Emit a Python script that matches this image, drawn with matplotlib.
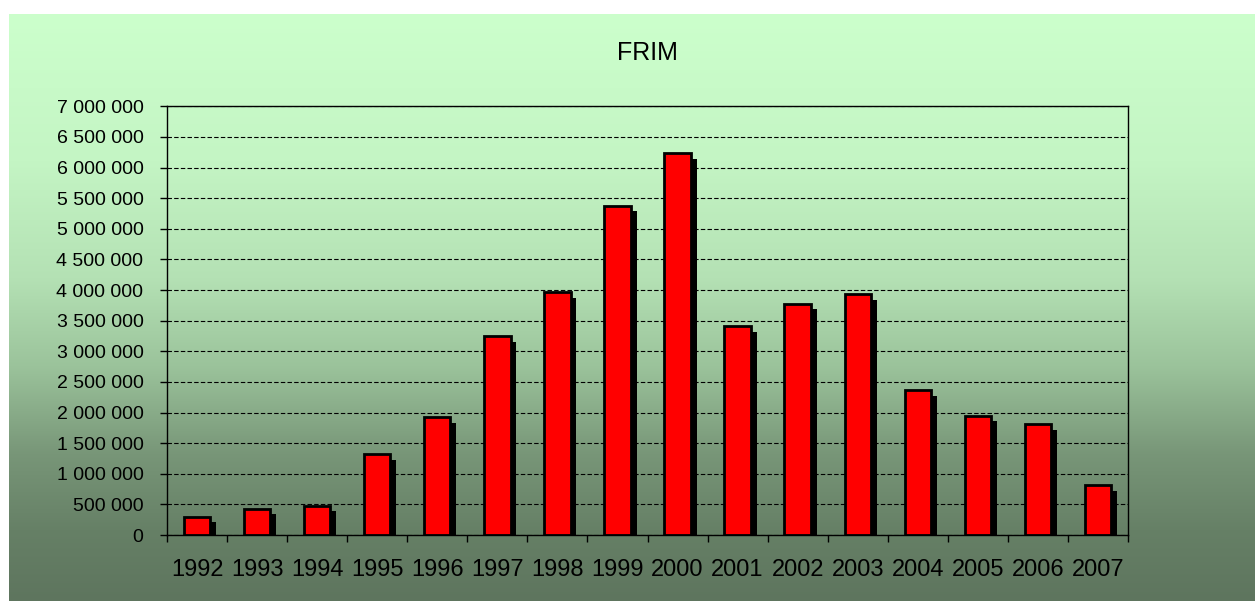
import matplotlib
matplotlib.use("Agg")
import matplotlib.pyplot as plt
import matplotlib.patheffects as pe
import numpy as np
from matplotlib.ticker import FuncFormatter, FixedLocator

years = ["1992", "1993", "1994", "1995", "1996", "1997", "1998", "1999",
         "2000", "2001", "2002", "2003", "2004", "2005", "2006", "2007"]
values = [300000, 430000, 480000, 1320000, 1920000, 3250000, 3960000, 5380000,
          6240000, 3410000, 3780000, 3930000, 2360000, 1950000, 1810000, 820000]
title = "FRIM"

plt.rcParams["font.family"] = ["Liberation Sans", "DejaVu Sans"]

W, H = 1255, 601
fig = plt.figure(figsize=(W / 100, H / 100), dpi=100, facecolor="white")

# gradient background panel
bg = fig.add_axes([9 / W, 0, 1 - 9 / W, (H - 14) / H])
bg.set_axis_off()
stops = np.array([0.0, 0.25, 0.45, 0.6, 0.75, 0.88, 1.0])
cols = np.array([[204, 255, 204], [196, 245, 196], [180, 225, 180],
                 [155, 195, 155], [120, 150, 120], [102, 128, 102],
                 [94, 117, 94]]) / 255.0
t = np.linspace(0, 1, 600)
grad = np.stack([np.interp(t, stops, cols[:, i]) for i in range(3)], axis=1)
bg.imshow(grad[:, None, :], aspect="auto", extent=[0, 1, 0, 1], origin="upper")

ax = fig.add_axes([167 / W, 66 / H, (1128 - 167) / W, (535 - 106.3) / H])
ax.set_facecolor("none")

x = np.arange(len(years))
bars = ax.bar(x, values, width=0.44, color="#FF0000", edgecolor="black",
              linewidth=2.0, zorder=3)
for b in bars:
    b.set_path_effects([pe.SimplePatchShadow(offset=(4.2, -4.2),
                                             shadow_rgbFace="black", alpha=1.0),
                        pe.Normal()])

ax.set_xlim(-0.5, len(years) - 0.5)
ax.set_ylim(0, 7000000)
ax.set_yticks(np.arange(0, 7000001, 500000))
ax.yaxis.set_major_formatter(FuncFormatter(lambda v, p: f"{int(v):,}".replace(",", " ")))
ax.grid(axis="y", color="black", linestyle=(0, (4, 2)), linewidth=0.8, zorder=1)
ax.set_axisbelow(True)

ax.xaxis.set_major_locator(FixedLocator(np.arange(-0.5, len(years), 1.0)))
ax.xaxis.set_minor_locator(FixedLocator(x))
ax.set_xticklabels([])
ax.set_xticklabels(years, minor=True)
ax.tick_params(axis="x", which="major", direction="out", length=5, width=1)
ax.tick_params(axis="x", which="minor", length=0, pad=17, labelsize=17)
ax.tick_params(axis="y", direction="out", length=5, width=1, pad=12, labelsize=14)

for s in ax.spines.values():
    s.set_color("black")
    s.set_linewidth(1.0)

fig.text(647 / W, 1 - 53 / H, title, ha="center", va="center", fontsize=18)

fig.savefig("out.png", dpi=100)
